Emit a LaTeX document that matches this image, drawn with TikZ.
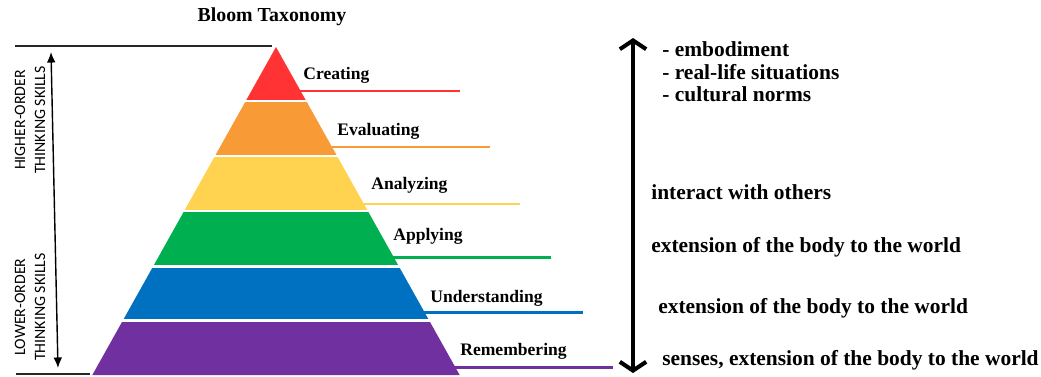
\documentclass[tikz,border=0pt]{standalone}
\usepackage{fontspec}
\setmainfont{Liberation Serif}
\newfontfamily\skillfont{Carlito}
\usetikzlibrary{arrows.meta}

\definecolor{bred}{HTML}{FF3333}
\definecolor{borange}{HTML}{F89A36}
\definecolor{byellow}{HTML}{FFD24F}
\definecolor{bgreen}{HTML}{00B050}
\definecolor{bblue}{HTML}{0070C0}
\definecolor{bpurple}{HTML}{7030A0}

\begin{document}
\begin{tikzpicture}[
  x=0.02cm, y=-0.02cm,
  levelname/.style={anchor=west, inner sep=0pt, font=\bfseries\fontsize{10}{12}\selectfont},
  notetext/.style={anchor=west, inner sep=0pt, align=left, font=\bfseries\fontsize{12.2}{12.9}\selectfont},
  skill/.style={rotate=90, align=center, inner sep=0pt, font=\skillfont\fontsize{9}{11.4}\selectfont},
  levelrule/.style={line width=1.7pt},
  edgeline/.style={line width=0.8pt, black!85},
  skillspan/.style={{Latex[length=6pt,width=5pt]}-{Latex[length=6pt,width=5pt]}, line width=0.8pt},
  bodyarrow/.style={{Straight Barb[length=5pt,width=15pt]}-{Straight Barb[length=5pt,width=15pt]}, line width=2.3pt}
]
\useasboundingbox (0,0) rectangle (1041,376);

% pyramid layers, half width grows 0.56 per unit
\foreach \ya/\yb/\col in {47/101/bred, 101/156/borange, 156/211/byellow, 211/266/bgreen, 266/320/bblue, 320/375/bpurple}
  \fill[\col] ({276-0.56*(\ya-47)},\ya) -- ({276+0.56*(\ya-47)},\ya)
    -- ({276+0.56*(\yb-47)},\yb) -- ({276-0.56*(\yb-47)},\yb) -- cycle;
\foreach \yc in {101,156,211,266,320}
  \draw[white, line width=1.7pt] (80,\yc) -- (470,\yc);

\node[font=\bfseries\fontsize{11.3}{13}\selectfont] (title) at (272,17) {Bloom Taxonomy};

% level names and their rules
\node[levelname] (creating) at (303,75) {Creating};
\node[levelname] (evaluating) at (337,131) {Evaluating};
\node[levelname] (analyzing) at (371,185) {Analyzing};
\node[levelname] (applying) at (393,236) {Applying};
\node[levelname] (understanding) at (430,298) {Understanding};
\node[levelname] (remembering) at (460,351) {Remembering};

\coordinate (cre-a) at (300,91);   \coordinate (cre-b) at (460,91);
\coordinate (eva-a) at (332,147);  \coordinate (eva-b) at (490,147);
\coordinate (ana-a) at (364,204);  \coordinate (ana-b) at (520,204);
\coordinate (app-a) at (393,257);  \coordinate (app-b) at (551,257);
\coordinate (und-a) at (424,312);  \coordinate (und-b) at (583,312);
\coordinate (rem-a) at (455,367);  \coordinate (rem-b) at (613,367);
\draw[levelrule, bred] (cre-a) -- (cre-b);
\draw[levelrule, borange] (eva-a) -- (eva-b);
\draw[levelrule, byellow] (ana-a) -- (ana-b);
\draw[levelrule, bgreen] (app-a) -- (app-b);
\draw[levelrule, bblue] (und-a) -- (und-b);
\draw[levelrule, bpurple] (rem-a) -- (rem-b);

% left scale
\coordinate (top-l) at (15,46);   \coordinate (top-r) at (272,46);
\coordinate (bot-l) at (16,374);  \coordinate (bot-r) at (90,374);
\coordinate (hi) at (51,52);      \coordinate (lo) at (58,368);
\draw[edgeline] (top-l) -- (top-r);
\draw[edgeline] (bot-l) -- (bot-r);
\draw[skillspan] (hi) -- (lo);
\node[skill] (higher) at (30,120) {HIGHER-ORDER\\THINKING SKILLS};
\node[skill] (lower) at (30,307) {LOWER-ORDER\\THINKING SKILLS};

% right side
\coordinate (body-top) at (633,38);
\coordinate (body-bot) at (633,373);
\draw[bodyarrow] (body-top) -- (body-bot);
\node[notetext] (embody) at (662,72) {- embodiment\\- real-life situations\\- cultural norms};
\node[notetext] (interact) at (651,192) {interact with others};
\node[notetext] (extend1) at (651,247) {extension of the body to the world};
\node[notetext] (extend2) at (658,308) {extension of the body to the world};
\node[notetext] (senses) at (662,360) {senses, extension of the body to the world};
\end{tikzpicture}
\end{document}
